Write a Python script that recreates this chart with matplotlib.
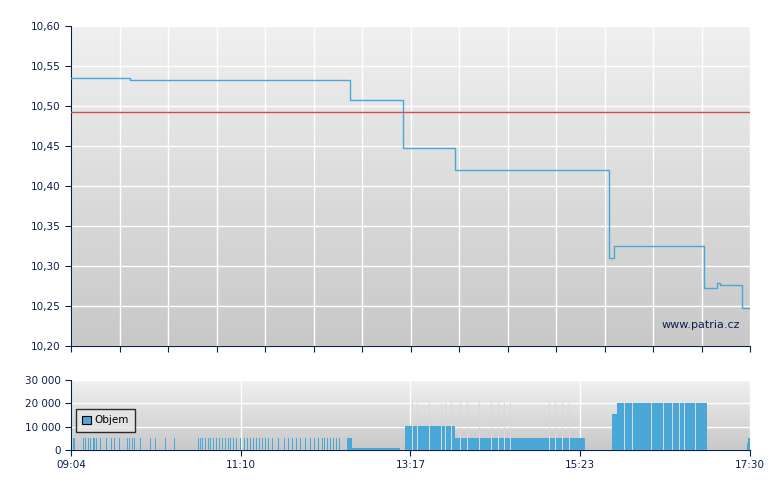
import matplotlib
matplotlib.use("Agg")
import matplotlib.pyplot as plt
import numpy as np

# price: minutes after 09:04, value (step-post)
price_t = [0, 44, 208, 247.4, 284, 286, 401, 404.6, 471.7, 481.4, 483.6, 500, 506]
price_v = [10.535, 10.533, 10.507, 10.447, 10.447, 10.420, 10.310, 10.325, 10.273, 10.279, 10.276, 10.248, 10.248]
ref_price = 10.492

# single volume trades (minutes after 09:04), each ~5000
vol_single_t = [1.5, 2.2, 8.9, 10.4, 12.7, 14.2, 16.4, 17.1, 18.6, 21.6, 26.1, 29.8, 32.0, 35.8,
                41.7, 43.2, 45.5, 46.9, 51.4, 58.9, 62.6, 70.0, 76.8,
                94.6, 96.1, 97.6, 99.8, 102.1, 103.6, 105.8, 108.1, 110.3, 112.5, 114.8, 117.0,
                118.5, 120.7, 123.0,
                125.9, 128.9, 131.2, 133.4, 135.6, 137.9, 140.1, 142.3, 144.6, 146.8, 149.8, 154.2,
                158.7, 161.7, 164.7, 167.7, 170.6, 174.4, 178.1, 181.1, 184.1, 187.0, 188.5, 190.8,
                193.0, 195.2, 197.5, 199.7]
vol_single_v = 5300
# volume blocks: start, end, value
blk_start = [205.7, 209.4, 248.9, 286, 403, 407, 503.7, 504.5]
blk_end = [209.4, 245, 286, 383, 407, 474, 504.5, 506]
blk_val = [5300, 900, 10500, 5300, 15500, 20000, 3000, 5300]
# gaps inside dense blocks (minutes)
gaps = [254, 258, 262, 267, 271, 276, 279, 283, 290, 295, 300, 304, 309, 313, 318, 323, 327,
        350, 356, 361, 366, 371, 376, 412, 418, 432, 441, 448, 453, 457, 461, 465]

xt_labels = ["09:04", "11:10", "13:17", "15:23", "17:30"]
xt_pos = [0, 126.5, 253, 379.5, 506]

navy = "#0b1f4d"
line_c = "#4aa8d8"

fig = plt.figure(figsize=(7.8, 4.9), dpi=100)
ax = fig.add_axes([71/780, 1-346/490, 679/780, 320/490])
axv = fig.add_axes([71/780, 1-450/490, 679/780, 70/490])

def bg(a, lo, hi):
    grad = np.linspace(0, 1, 256).reshape(-1, 1)
    from matplotlib.colors import LinearSegmentedColormap
    cm = LinearSegmentedColormap.from_list("g", ["#c8c8c8", "#f0f0f0"])
    a.imshow(grad, aspect="auto", cmap=cm, extent=[0, 506, lo, hi], origin="lower", zorder=0)

bg(ax, 10.20, 10.60)
ax.step(price_t, price_v, where="post", color=line_c, lw=1.0, zorder=3)
ax.axhline(ref_price, color="#d05050", lw=1.0, zorder=3)
ax.set_xlim(0, 506)
ax.set_ylim(10.20, 10.60)
yt = np.arange(10.20, 10.601, 0.05)
ax.set_yticks(yt)
ax.set_yticklabels([f"{v:.2f}".replace(".", ",") for v in yt])
ax.set_xticks(np.linspace(0, 506, 15))
ax.set_xticklabels([])
ax.grid(True, color="white", lw=1.0, zorder=1)
ax.text(0.985, 0.05, "www.patria.cz", transform=ax.transAxes, ha="right", va="bottom",
        color=navy, fontsize=8, zorder=4)

bg(axv, 0, 30000)
axv.bar(vol_single_t, [vol_single_v]*len(vol_single_t), width=0.7, align="edge",
        color=line_c, zorder=3)
for s, e, v in zip(blk_start, blk_end, blk_val):
    axv.bar(s, v, width=e-s, align="edge", color=line_c, zorder=3)
axv.bar(gaps, [20000]*len(gaps), width=0.6, align="edge", color="#d8d8d8", zorder=3.5)
axv.set_xlim(0, 506)
axv.set_ylim(0, 30000)
axv.set_yticks([0, 10000, 20000, 30000])
axv.set_yticklabels(["0", "10 000", "20 000", "30 000"])
axv.set_xticks(xt_pos)
axv.set_xticklabels(xt_labels)
axv.grid(True, color="white", lw=1.0, zorder=1)
leg = axv.legend(handles=[plt.Rectangle((0, 0), 1, 1, fc=line_c, ec="black", lw=0.8)],
                 labels=["Objem"], loc="upper left", bbox_to_anchor=(0.0, 0.66),
                 fontsize=7.5, frameon=True, fancybox=False, handlelength=0.8, handleheight=0.8,
                 borderpad=0.6, handletextpad=0.3)
leg.get_frame().set_edgecolor("black")
leg.get_frame().set_facecolor("#e6e6e6")

for a in (ax, axv):
    for s in ("top", "right"):
        a.spines[s].set_visible(False)
    for s in ("left", "bottom"):
        a.spines[s].set_color(navy)
    a.tick_params(colors=navy, labelcolor=navy, labelsize=7.5, length=4, direction="out")

fig.savefig("out.png", dpi=100, facecolor="white")
